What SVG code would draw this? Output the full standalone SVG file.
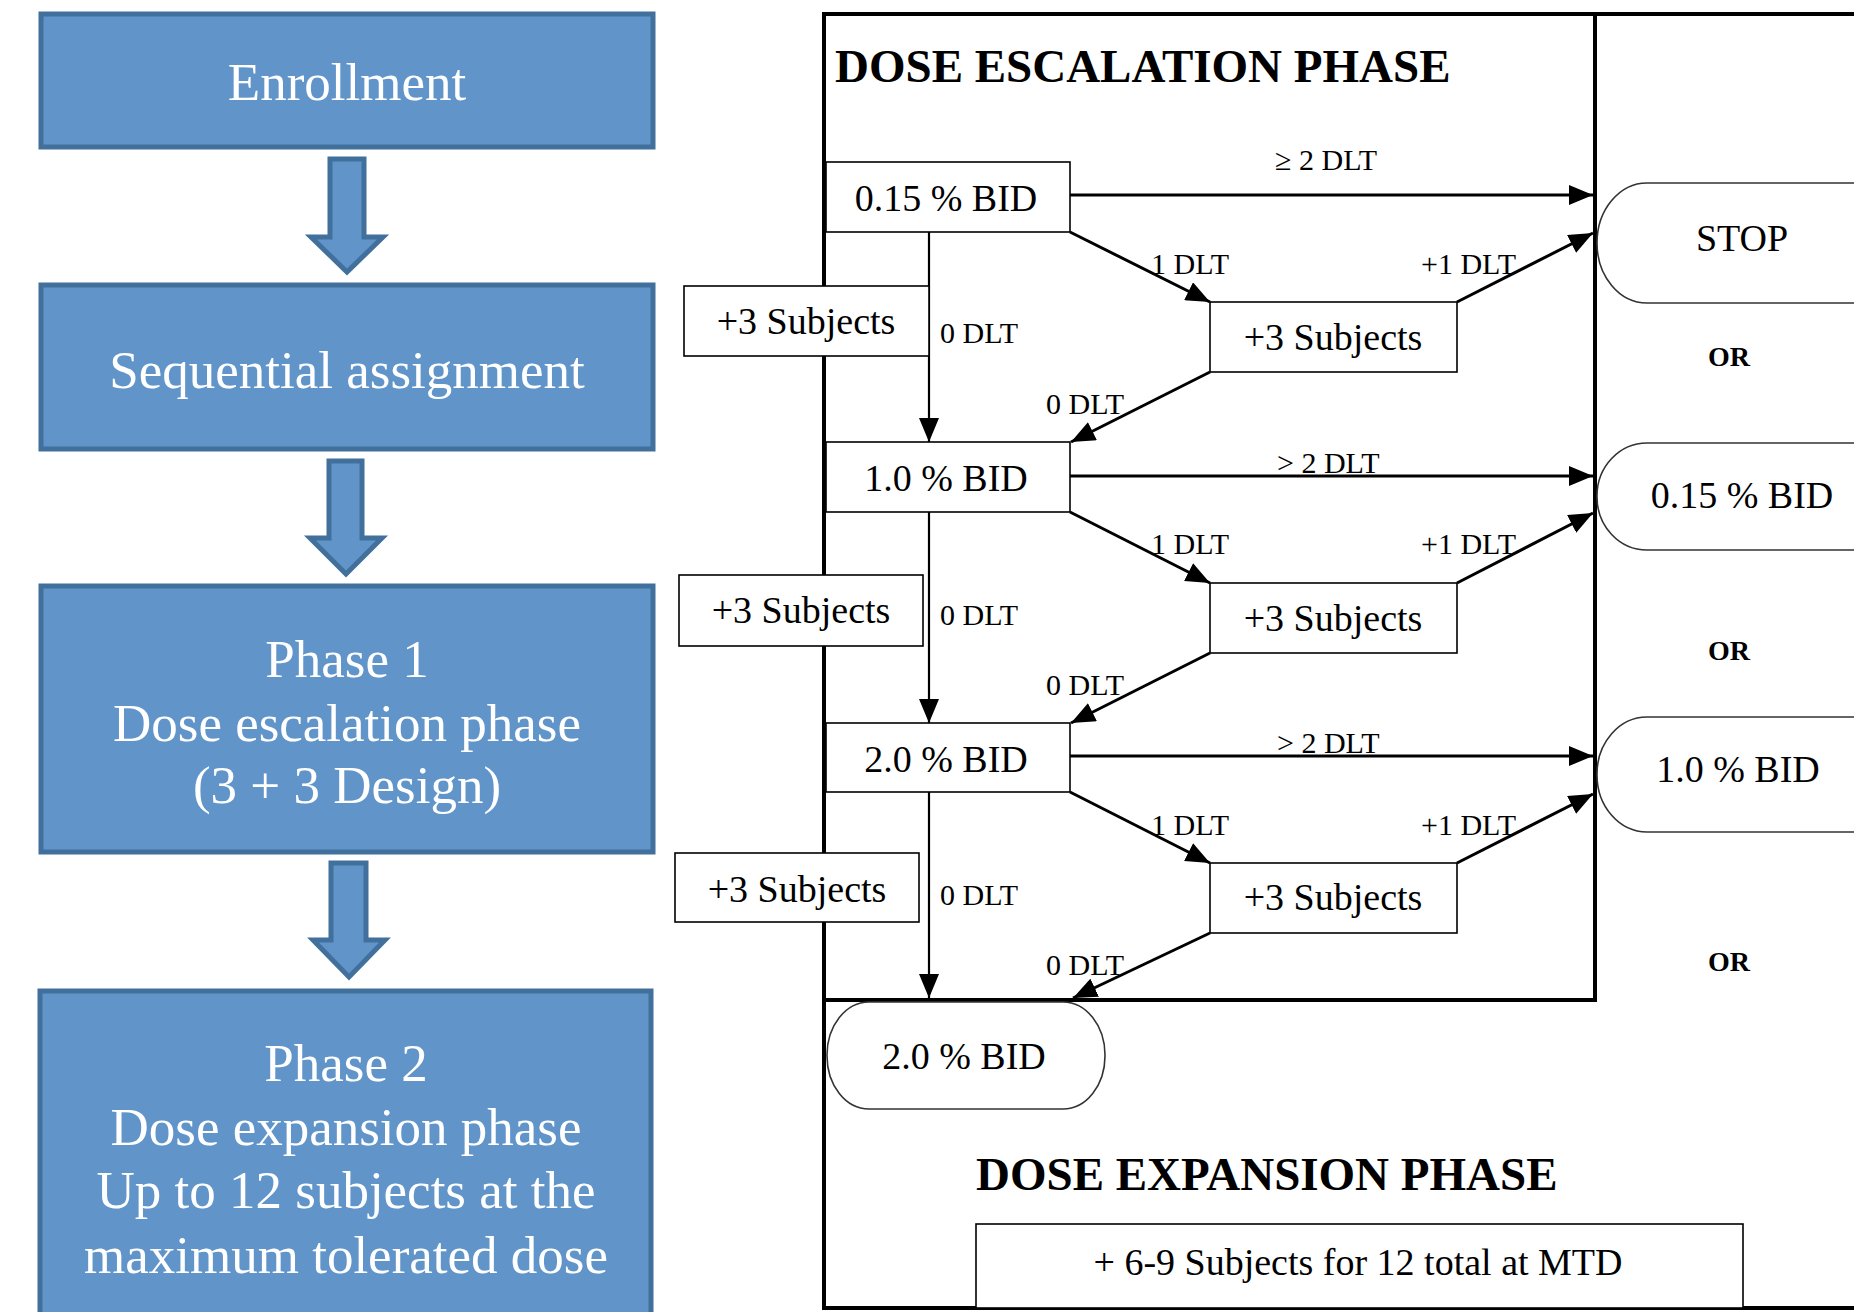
<svg xmlns="http://www.w3.org/2000/svg" width="1854" height="1312" viewBox="0 0 1854 1312">
<style>
.bb{fill:#6195c9;stroke:#41709c;stroke-width:5}
.bt{font-family:"Liberation Serif","Times New Roman",serif;font-size:53px;fill:#fff;text-anchor:middle}
.bx{fill:#fff;stroke:#000;stroke-width:1.6}
.pill{fill:#fff;stroke:#333;stroke-width:1.6}
.t{font-family:"Liberation Serif","Times New Roman",serif;font-size:38px;fill:#000;text-anchor:middle}
.s{font-family:"Liberation Serif","Times New Roman",serif;font-size:30px;fill:#000}
.h{font-family:"Liberation Serif","Times New Roman",serif;font-size:47px;font-weight:bold;fill:#000}
.or{font-family:"Liberation Serif","Times New Roman",serif;font-size:28px;font-weight:bold;fill:#000;text-anchor:middle}
.fr{stroke:#000;stroke-width:4;fill:none}
.c{stroke:#000;stroke-width:3;fill:none}
.v{stroke:#000;stroke-width:2.2;fill:none}
</style>
<defs>
<marker id="ah" markerWidth="24" markerHeight="20" refX="24" refY="10" orient="auto" markerUnits="userSpaceOnUse">
<path d="M0,0 L24,10 L0,20 z" fill="#000"/>
</marker>
</defs>
<rect width="1854" height="1312" fill="#fff"/>

<!-- left flow -->
<g id="enrollment"><rect class="bb" x="41" y="14" width="612" height="133"/><text class="bt" x="347" y="100">Enrollment</text></g>
<g id="arrow-1"><polygon class="bb" stroke-width="4" points="330,159 364,159 364,237 383,237 347,272 311,237 330,237"/></g>
<g id="sequential"><rect class="bb" x="41" y="285" width="612" height="164"/><text class="bt" x="347" y="388">Sequential assignment</text></g>
<g id="arrow-2"><polygon class="bb" stroke-width="4" points="329,461 362,461 362,538 382,538 346,574 310,538 329,538"/></g>
<g id="phase1"><rect class="bb" x="41" y="586" width="612" height="266"/>
<text class="bt" x="347" y="677">Phase 1</text>
<text class="bt" x="347" y="741">Dose escalation phase</text>
<text class="bt" x="347" y="803">(3 + 3 Design)</text></g>
<g id="arrow-3"><polygon class="bb" stroke-width="4" points="331,863 366,863 366,940 385,940 349,977 313,940 331,940"/></g>
<g id="phase2"><rect class="bb" x="40" y="991" width="611" height="340"/>
<text class="bt" x="346" y="1081">Phase 2</text>
<text class="bt" x="346" y="1145">Dose expansion phase</text>
<text class="bt" x="346" y="1208">Up to 12 subjects at the</text>
<text class="bt" x="346" y="1273">maximum tolerated dose</text></g>

<!-- frame -->
<g id="frame">
<line class="fr" x1="822" y1="14" x2="1854" y2="14"/>
<line class="fr" x1="824" y1="12" x2="824" y2="1310"/>
<line class="fr" x1="1595" y1="12" x2="1595" y2="1002"/>
<line class="fr" stroke-width="5" x1="822" y1="1000" x2="1597" y2="1000"/>
<line class="fr" x1="822" y1="1308" x2="1854" y2="1308"/>
</g>
<text class="h" x="835" y="82">DOSE ESCALATION PHASE</text>
<text class="h" x="976" y="1190">DOSE EXPANSION PHASE</text>

<!-- connectors -->
<g id="connectors">
<line class="c" x1="1070" y1="195" x2="1593" y2="195" marker-end="url(#ah)"/>
<line class="c" x1="1070" y1="232" x2="1210" y2="302" marker-end="url(#ah)"/>
<line class="c" x1="1457" y1="302" x2="1593" y2="233" marker-end="url(#ah)"/>
<line class="c" x1="1210" y1="372" x2="1071" y2="442" marker-end="url(#ah)"/>
<line class="v" x1="929" y1="232" x2="929" y2="442" marker-end="url(#ah)"/>

<line class="c" x1="1070" y1="476" x2="1593" y2="476" marker-end="url(#ah)"/>
<line class="c" x1="1070" y1="512" x2="1210" y2="583" marker-end="url(#ah)"/>
<line class="c" x1="1457" y1="583" x2="1593" y2="513" marker-end="url(#ah)"/>
<line class="c" x1="1210" y1="653" x2="1071" y2="723" marker-end="url(#ah)"/>
<line class="v" x1="929" y1="512" x2="929" y2="723" marker-end="url(#ah)"/>

<line class="c" x1="1070" y1="756" x2="1593" y2="756" marker-end="url(#ah)"/>
<line class="c" x1="1070" y1="792" x2="1210" y2="863" marker-end="url(#ah)"/>
<line class="c" x1="1457" y1="863" x2="1593" y2="794" marker-end="url(#ah)"/>
<line class="c" x1="1210" y1="933" x2="1073" y2="998" marker-end="url(#ah)"/>
<line class="v" x1="929" y1="792" x2="929" y2="998" marker-end="url(#ah)"/>

<text class="s" x="1275" y="170" font-size="31">≥ 2 DLT</text>
<text class="s" x="1151" y="274">1 DLT</text>
<text class="s" x="1421" y="274">+1 DLT</text>
<text class="s" x="1046" y="414">0 DLT</text>
<text class="s" x="940" y="343">0 DLT</text>

<text class="s" x="1277" y="473">&gt; 2 DLT</text>
<text class="s" x="1151" y="554">1 DLT</text>
<text class="s" x="1421" y="554">+1 DLT</text>
<text class="s" x="1046" y="695">0 DLT</text>
<text class="s" x="940" y="625">0 DLT</text>

<text class="s" x="1277" y="753">&gt; 2 DLT</text>
<text class="s" x="1151" y="835">1 DLT</text>
<text class="s" x="1421" y="835">+1 DLT</text>
<text class="s" x="1046" y="975">0 DLT</text>
<text class="s" x="940" y="905">0 DLT</text>
</g>

<!-- dose boxes -->
<g id="dose-015"><rect class="bx" x="826" y="162" width="244" height="70"/><text class="t" x="946" y="211">0.15 % BID</text></g>
<g id="dose-10"><rect class="bx" x="826" y="442" width="244" height="70"/><text class="t" x="946" y="491">1.0 % BID</text></g>
<g id="dose-20"><rect class="bx" x="826" y="723" width="244" height="69"/><text class="t" x="946" y="772">2.0 % BID</text></g>

<g id="sub-r1"><rect class="bx" x="1210" y="302" width="247" height="70"/><text class="t" x="1333" y="350">+3 Subjects</text></g>
<g id="sub-r2"><rect class="bx" x="1210" y="583" width="247" height="70"/><text class="t" x="1333" y="631">+3 Subjects</text></g>
<g id="sub-r3"><rect class="bx" x="1210" y="863" width="247" height="70"/><text class="t" x="1333" y="910">+3 Subjects</text></g>

<g id="sub-l1"><rect class="bx" x="684" y="286" width="245" height="70"/><text class="t" x="806" y="334">+3 Subjects</text></g>
<g id="sub-l2"><rect class="bx" x="679" y="575" width="244" height="71"/><text class="t" x="801" y="623">+3 Subjects</text></g>
<g id="sub-l3"><rect class="bx" x="675" y="853" width="244" height="69"/><text class="t" x="797" y="902">+3 Subjects</text></g>

<!-- outcome pills -->
<g id="stop"><rect class="pill" x="1597" y="183" width="400" height="120" rx="50" ry="60"/><text class="t" x="1742" y="251">STOP</text></g>
<text class="or" x="1729" y="366">OR</text>
<g id="out-015"><rect class="pill" x="1597" y="443" width="400" height="107" rx="50" ry="53"/><text class="t" x="1742" y="508">0.15 % BID</text></g>
<text class="or" x="1729" y="660">OR</text>
<g id="out-10"><rect class="pill" x="1597" y="717" width="400" height="115" rx="50" ry="57"/><text class="t" x="1738" y="782">1.0 % BID</text></g>
<text class="or" x="1729" y="971">OR</text>
<g id="out-20"><rect class="pill" x="827" y="1002" width="278" height="107" rx="42" ry="53"/><text class="t" x="964" y="1069">2.0 % BID</text></g>

<g id="mtd"><rect class="bx" x="976" y="1224" width="767" height="84"/><text class="t" x="1358" y="1275">+ 6-9 Subjects for 12 total at MTD</text></g>
</svg>
